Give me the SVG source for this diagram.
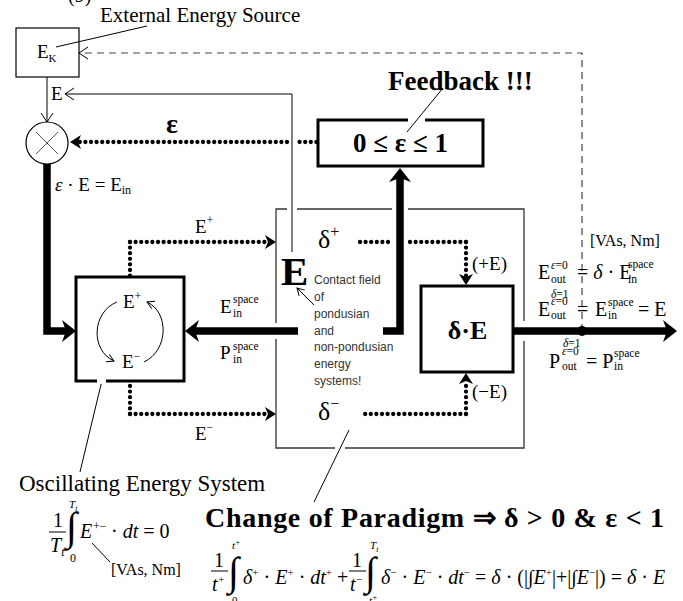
<svg xmlns="http://www.w3.org/2000/svg" width="683" height="601" viewBox="0 0 683 601" font-size="20">
<defs>
<style>
text{font-family:"Liberation Serif","Times New Roman",serif;fill:#000}
.sans{font-family:"Liberation Sans",Arial,sans-serif;fill:#333}
.b{font-weight:bold}
.i{font-style:italic}
.thin{fill:none;stroke:#000;stroke-width:1}
.thick{fill:none;stroke:#000;stroke-width:7.5}
.dot{fill:none;stroke:#000;stroke-width:4.3;stroke-linecap:round;stroke-dasharray:0 5.6}
.dash{fill:none;stroke:#444;stroke-width:1.2;stroke-dasharray:7 5}
.box{fill:#fff;stroke:#000;stroke-width:3}
.frame{fill:none;stroke:#333;stroke-width:1.3}
</style>
<marker id="open" markerUnits="userSpaceOnUse" viewBox="-1 -7 12 14" refX="9" refY="0" markerWidth="12" markerHeight="14" orient="auto"><path d="M0,-6 L9,0 L0,6" fill="none" stroke="#000" stroke-width="1"/></marker>
<marker id="openS" markerUnits="userSpaceOnUse" viewBox="-1 -5 9 10" refX="7" refY="0" markerWidth="9" markerHeight="10" orient="auto"><path d="M0,-4 L7,0 L0,4" fill="none" stroke="#000" stroke-width="1"/></marker>
<marker id="big" markerUnits="userSpaceOnUse" viewBox="0 -11 14 22" refX="4" refY="0" markerWidth="14" markerHeight="22" orient="auto"><path d="M0,-11 L14,0 L0,11 L4,0 z" fill="#000"/></marker>
<marker id="smh" markerUnits="userSpaceOnUse" viewBox="0 -7 11 14" refX="3" refY="0" markerWidth="11" markerHeight="14" orient="auto"><path d="M0,-7 L11,0 L0,7 L3,0 z" fill="#000"/></marker>
</defs>
<rect width="683" height="601" fill="#fff"/>

<text x="68" y="2">(9)</text>
<text x="100" y="22" font-size="21">External Energy Source</text>

<g id="connectors">
  <path class="dash" d="M582,331 L582,53 L79,53" marker-end="url(#open)"/>
  <path class="thin" d="M56,47 L147,26"/>
  <path class="thin" d="M47,77 L47,122" marker-end="url(#open)"/>
  <path class="thin" d="M292,252 L292,94 L65,94" marker-end="url(#open)"/>
  <path class="thin" d="M314,305 L297,288" marker-end="url(#openS)"/>
  <path class="thin" d="M104,372 L80,472"/>
  <path class="thin" d="M349,430 L314,502"/>
  <path class="thin" d="M92,543 L110,562"/>
  <path class="dot" d="M322,142 L299,142"/>
  <path class="dot" d="M287,142 L78,142" marker-end="url(#smh)"/>
  <path class="dot" d="M130,242 L130,277"/>
  <path class="dot" d="M130,242 L268,242" marker-end="url(#smh)"/>
  <path class="dot" d="M130,414 L130,381"/>
  <path class="dot" d="M130,414 L268,414" marker-end="url(#smh)"/>
  <path class="dot" d="M360,242 L391,242"/>
  <path class="dot" d="M466,242 L409,242"/>
  <path class="dot" d="M466,242 L466,277" marker-end="url(#smh)"/>
  <path class="dot" d="M466,414 L360,414"/>
  <path class="dot" d="M466,414 L466,381" marker-end="url(#smh)"/>
  <path class="thick" d="M47,164 L47,331 L66,331" marker-end="url(#big)"/>
  <path class="thick" d="M298,331 L195,331" marker-end="url(#big)"/>
  <path class="thick" d="M383,331 L400,331 L400,178" marker-end="url(#big)"/>
  <path class="thick" d="M513,331 L667,331" marker-end="url(#big)"/>
  <circle cx="582" cy="331" r="5" fill="#000"/>
</g>

<g id="ek">
  <rect x="16" y="28" width="63" height="49" fill="#fff" stroke="#000" stroke-width="1.2"/>
  <path class="thin" d="M56,47 L79,41.7"/>
  <text x="37" y="58" font-size="19">E<tspan font-size="11" dy="4">K</tspan></text>
</g>
<text x="51" y="100" font-size="19">E</text>

<g id="mult">
  <circle cx="47" cy="143" r="21" fill="#fff" stroke="#000" stroke-width="1.2"/>
  <path d="M36,132 L58,154 M58,132 L36,154" stroke="#555" stroke-width="1"/>
</g>
<text x="166" y="133" class="b" font-size="28">ε</text>
<text x="55" y="191" font-size="19"><tspan class="i">ε</tspan> · E = E<tspan font-size="12" dy="3">in</tspan></text>

<g id="feedback">
  <rect class="box" x="318" y="120" width="165" height="46"/>
  <rect x="408" y="117" width="17" height="6" fill="#fff"/>
  <path class="thin" d="M443,88 L407,132"/>
  <text x="400.5" y="152" text-anchor="middle" class="b" font-size="27">0 ≤ ε ≤ 1</text>
</g>
<text x="388" y="90" class="b" font-size="27">Feedback !!!</text>

<g id="field">
  <path class="frame" d="M287,209 L276,209 L276,323 M297,209 L392,209 M408,209 L524,209 L524,321 M276,339 L276,448 L335,448 M345,448 L524,448 L524,341"/>
  <text x="281" y="285" class="b" font-size="41">E</text>
  <text class="sans" font-size="12" x="314" y="284">Contact field</text>
  <text class="sans" font-size="12" x="314" y="301">of</text>
  <text class="sans" font-size="12" x="314" y="318">pondusian</text>
  <text class="sans" font-size="12" x="314" y="335">and</text>
  <text class="sans" font-size="12" x="314" y="351">non-pondusian</text>
  <text class="sans" font-size="12" x="314" y="368">energy</text>
  <text class="sans" font-size="12" x="314" y="385">systems!</text>
  <text x="318" y="248" font-size="26">δ<tspan font-size="16" dy="-11">+</tspan></text>
  <text x="318" y="420" font-size="26">δ<tspan font-size="16" dy="-11">−</tspan></text>
</g>

<g id="osc">
  <rect class="box" x="76" y="277" width="108" height="104" stroke-width="3.5"/>
  <rect x="97" y="377" width="9" height="7" fill="#fff"/>
  <text x="123" y="308" font-size="19">E<tspan font-size="12" dy="-8">+</tspan></text>
  <text x="122" y="368" font-size="19">E<tspan font-size="12" dy="-8">−</tspan></text>
  <path class="thin" d="M117,302 C92,312 90,350 114,361" marker-end="url(#openS)"/>
  <path class="thin" d="M144,362 C169,350 169,312 147,302" marker-end="url(#openS)"/>
</g>
<text x="195" y="233" font-size="19">E<tspan font-size="12" dy="-9">+</tspan></text>
<text x="195" y="440" font-size="19">E<tspan font-size="12" dy="-9">−</tspan></text>
<text x="220" y="313" font-size="19">E</text>
<text x="233" y="303" font-size="11.5">space</text>
<text x="233" y="317" font-size="11.5">in</text>
<text x="220" y="359" font-size="19">P</text>
<text x="233" y="350" font-size="11.5">space</text>
<text x="233" y="363" font-size="11.5">in</text>

<g id="delta">
  <rect class="box" x="421" y="286" width="92" height="86"/>
  <text x="467.5" y="339" text-anchor="middle" class="b" font-size="26">δ·E</text>
</g>
<text x="472" y="270" font-size="19">(+E)</text>
<text x="472" y="398" font-size="19">(−E)</text>

<text x="590" y="246" font-size="16">[VAs, Nm]</text>
<g id="out-eq">
  <text x="538" y="279">E</text>
  <text x="551" y="269" font-size="11.5"><tspan class="i">ε</tspan>=0</text>
  <text x="551" y="283" font-size="11.5">out</text>
  <text x="577" y="279">= <tspan class="i">δ</tspan> · E</text>
  <text x="628" y="268" font-size="11.5">space</text>
  <text x="628" y="283" font-size="11.5">in</text>

  <text x="538" y="316">E</text>
  <text x="551" y="298" font-size="11.5"><tspan class="i">δ</tspan>=1</text>
  <text x="551" y="305" font-size="11.5"><tspan class="i">ε</tspan>=0</text>
  <text x="551" y="319" font-size="11.5">out</text>
  <text x="577" y="316">=</text>
  <text x="595" y="316">E</text>
  <text x="608" y="306" font-size="11.5">space</text>
  <text x="608" y="319" font-size="11.5">in</text>
  <text x="638" y="316">= E</text>

  <text x="549" y="368">P</text>
  <text x="563" y="347" font-size="11.5"><tspan class="i">δ</tspan>=1</text>
  <text x="562" y="355" font-size="11.5"><tspan class="i">ε</tspan>=0</text>
  <text x="562" y="370" font-size="11.5">out</text>
  <text x="586" y="368">= P</text>
  <text x="614" y="357" font-size="11.5">space</text>
  <text x="614" y="370" font-size="11.5">in</text>
</g>

<text x="19" y="491" font-size="23">Oscillating Energy System</text>

<g id="osc-eq">
  <text x="53" y="527">1</text>
  <path class="thin" d="M49,532 L66,532"/>
  <text x="50" y="552" class="i">T<tspan font-size="12" dy="4">t</tspan></text>
  <text x="66" y="540" font-size="40">∫</text>
  <text x="69" y="508" class="i" font-size="11">T<tspan font-size="8" dy="3">t</tspan></text>
  <text x="70" y="562" font-size="12">0</text>
  <text x="80" y="538" class="i">E</text>
  <text x="93" y="530" font-size="12">+−</text>
  <text x="111" y="538">· <tspan class="i">dt</tspan> = 0</text>
</g>
<text x="111" y="575" font-size="16">[VAs, Nm]</text>

<text x="205" y="527" class="b" font-size="28" textLength="459" lengthAdjust="spacing">Change of Paradigm ⇒ δ &gt; 0  &amp;  ε &lt; 1</text>

<g id="main-eq">
  <text x="214" y="567">1</text>
  <path class="thin" d="M211,571 L228,571"/>
  <text x="212" y="591" class="i">t<tspan font-size="11" dy="-8">+</tspan></text>
  <text x="228" y="585" font-size="40">∫</text>
  <text x="232" y="549" class="i" font-size="11">t<tspan font-size="8" dy="-4">+</tspan></text>
  <text x="232" y="604" font-size="11">0</text>
  <text x="243" y="584"><tspan class="i">δ</tspan><tspan font-size="11" dy="-8">+</tspan><tspan dy="8"> · </tspan><tspan class="i">E</tspan><tspan font-size="11" dy="-8">+</tspan><tspan dy="8"> · </tspan><tspan class="i">dt</tspan><tspan font-size="11" dy="-8">+</tspan><tspan dy="8"> +</tspan></text>
  <text x="352" y="567">1</text>
  <path class="thin" d="M349,571 L366,571"/>
  <text x="350" y="591" class="i">t<tspan font-size="11" dy="-8">−</tspan></text>
  <text x="365" y="585" font-size="40">∫</text>
  <text x="370" y="549" class="i" font-size="11">T<tspan font-size="8" dy="3">t</tspan></text>
  <text x="369" y="604" class="i" font-size="11">t<tspan font-size="8" dy="-4">+</tspan></text>
  <text x="381" y="584"><tspan class="i">δ</tspan><tspan font-size="11" dy="-8">−</tspan><tspan dy="8"> · </tspan><tspan class="i">E</tspan><tspan font-size="11" dy="-8">−</tspan><tspan dy="8"> · </tspan><tspan class="i">dt</tspan><tspan font-size="11" dy="-8">−</tspan><tspan dy="8"> = </tspan><tspan class="i">δ</tspan> · (|∫<tspan class="i">E</tspan><tspan font-size="11" dy="-8">+</tspan><tspan dy="8">|+|∫</tspan><tspan class="i">E</tspan><tspan font-size="11" dy="-8">−</tspan><tspan dy="8">|) = </tspan><tspan class="i">δ</tspan> · <tspan class="i">E</tspan></text>
</g>
</svg>
